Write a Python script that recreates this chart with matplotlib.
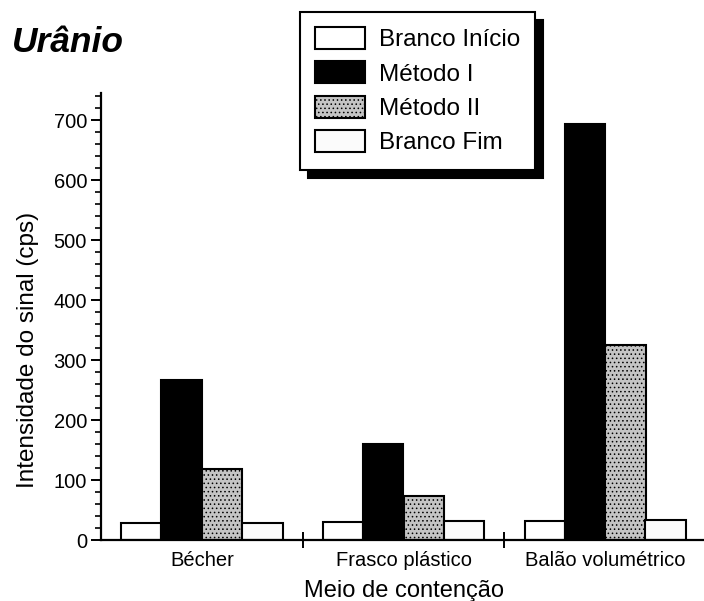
import numpy as np
import matplotlib
matplotlib.use("Agg")
import matplotlib.pyplot as plt
from matplotlib.ticker import MultipleLocator, FixedLocator

plt.rcParams['font.family'] = ['Liberation Sans', 'DejaVu Sans']
plt.rcParams['hatch.linewidth'] = 0.6

categorias = ["Bécher", "Frasco plástico", "Balão volumétrico"]
series = ["Branco Início", "Método I", "Método II", "Branco Fim"]
branco_inicio = [28, 30, 31]
metodo_1 = [266, 160, 693]
metodo_2 = [118, 73, 325]
branco_fim = [29, 31, 33]

valores = [branco_inicio, metodo_1, metodo_2, branco_fim]
cores = ["white", "black", "#c4c4c4", "#fbfbfb"]
hachuras = [None, None, "....", None]

fig = plt.figure(figsize=(7.04, 6.01), dpi=100)
ax = fig.add_axes([101/704, 61/601, 605/704, 447/601])

x = np.arange(len(categorias))
w = 0.2
for i, (nome, vals) in enumerate(zip(series, valores)):
    ax.bar(x + (i - 1.5) * w, vals, w, color=cores[i], edgecolor="black",
           linewidth=1.5, hatch=hachuras[i], label=nome, zorder=2)

ax.set_xlim(-0.5, 2.5)
ax.set_ylim(0, 745)

for s in ["top", "right"]:
    ax.spines[s].set_visible(False)
ax.spines["left"].set_linewidth(1.6)
ax.spines["bottom"].set_linewidth(1.6)

ax.yaxis.set_major_locator(MultipleLocator(100))
ax.yaxis.set_minor_locator(MultipleLocator(20))
ax.tick_params(axis="y", which="major", length=7, width=1.4, labelsize=14.5, pad=3)
ax.tick_params(axis="y", which="minor", length=4, width=1.2)

ax.set_xticks(x)
ax.set_xticklabels(categorias)
ax.xaxis.set_minor_locator(FixedLocator([0.5, 1.5]))
ax.tick_params(axis="x", which="major", length=0, labelsize=14.5, pad=8)
ax.tick_params(axis="x", which="minor", length=11, width=1.4, direction="inout")

ax.set_xlabel("Meio de contenção", fontsize=17, labelpad=7)
fig.text(28/704, 1 - 350/601, "Intensidade do sinal (cps)", rotation=90,
         fontsize=17.5, ha="center", va="center")

fig.text(12/704, 1 - 52/601, "Urânio", fontsize=25.5, fontweight="bold",
         fontstyle="italic", ha="left", va="baseline")

leg = fig.legend(loc="upper left", bbox_to_anchor=(300/704, 1 - 12/601),
                 borderaxespad=0, fontsize=17.5, frameon=True, fancybox=False,
                 handlelength=2.06, handleheight=1.0, handletextpad=0.55,
                 labelspacing=0.42, borderpad=0.62,
                 shadow={"ox": 6, "oy": -6, "color": "black", "alpha": 1})
leg.get_frame().set_edgecolor("black")
leg.get_frame().set_linewidth(1.5)
leg.get_frame().set_alpha(1)

fig.savefig("out.png", dpi=100)
